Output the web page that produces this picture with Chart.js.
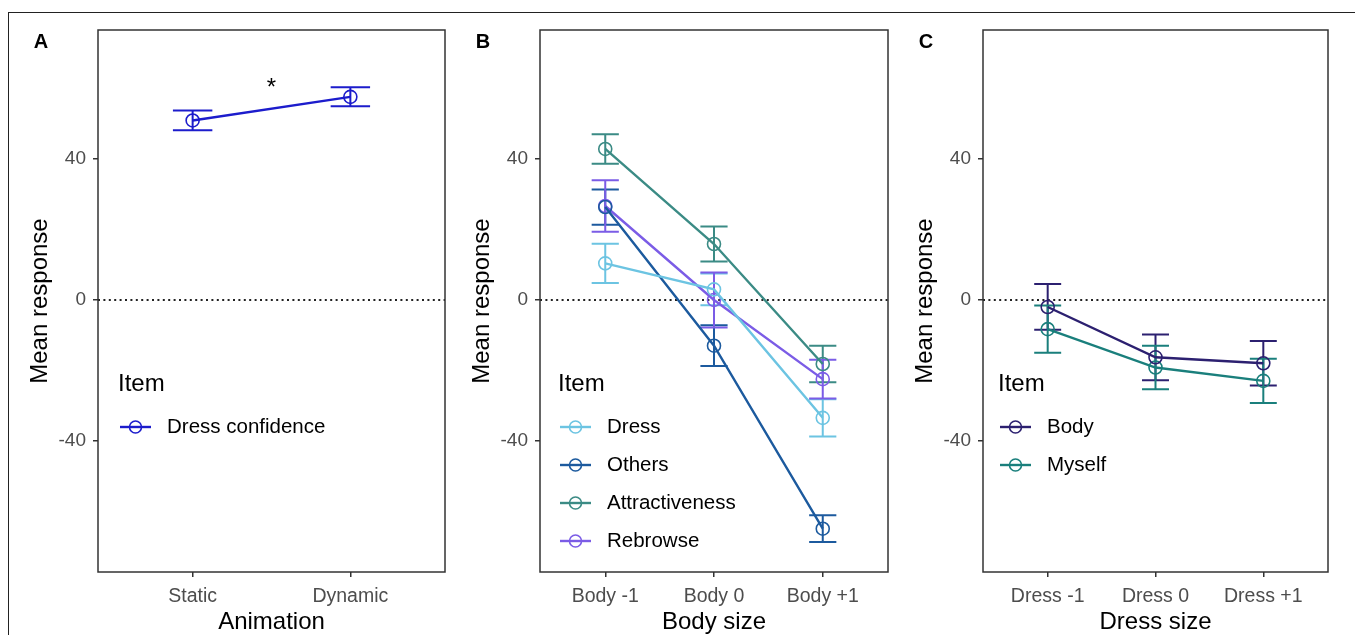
<!DOCTYPE html>
<html>
<head>
<meta charset="utf-8">
<script src="https://cdn.jsdelivr.net/npm/chart.js@4.4.1/dist/chart.umd.min.js"></script>
<style>
  html, body { margin: 0; padding: 0; background: #fff; overflow: hidden; }
  body { width: 1355px; height: 635px; position: relative; }
  canvas { position: absolute; top: 0; }
  #frame { position: absolute; left: 8px; top: 12px; width: 1400px; height: 700px; border: 1px solid #222; }
</style>
</head>
<body>
<div id="frame"></div>
<canvas id="chartA" width="433" height="641" style="left:22px"></canvas>
<canvas id="chartB" width="434" height="641" style="left:464px"></canvas>
<canvas id="chartC" width="431" height="641" style="left:907px"></canvas>
<script>
// Panel A: animation
const animCats = ['Static', 'Dynamic'];
const dressConfMean = [51, 57.7];
const dressConfErr = [2.8, 2.7];

// Panel B: body size
const bodyCats = ['Body -1', 'Body 0', 'Body +1'];
const dressMean = [10.4, 3, -33.5];
const dressErr = [5.6, 4.5, 5.3];
const othersMean = [26.4, -13, -65];
const othersErr = [5, 5.8, 3.8];
const attractMean = [42.9, 15.9, -18.2];
const attractErr = [4.2, 5, 5.2];
const rebrowseMean = [26.7, 0, -22.5];
const rebrowseErr = [7.3, 7.8, 5.5];

// Panel C: dress size
const dressSizeCats = ['Dress -1', 'Dress 0', 'Dress +1'];
const bodyItemMean = [-2, -16.3, -18];
const bodyItemErr = [6.5, 6.5, 6.3];
const myselfMean = [-8.3, -19.2, -23];
const myselfErr = [6.7, 6.2, 6.3];

const yTicks = [-40, 0, 40];
const yMin = -77.3, yMax = 76.7;

const FONT = "'Liberation Sans', Arial, sans-serif";

function makeDecor(panel) {
    return {
        id: 'decor' + panel.letter,
        beforeDatasetsDraw(chart) {
            const {ctx, chartArea: a, scales: {x, y}} = chart;
            ctx.save();
            // dotted zero line
            const y0 = y.getPixelForValue(0);
            ctx.setLineDash([2, 3.4]);
            ctx.lineWidth = 2;
            ctx.strokeStyle = '#222';
            ctx.beginPath();
            ctx.moveTo(a.left, y0);
            ctx.lineTo(a.right, y0);
            ctx.stroke();
            ctx.setLineDash([]);

            // error bars
            panel.series.forEach(s => {
                ctx.strokeStyle = s.color;
                ctx.lineWidth = 2;
                s.mean.forEach((m, i) => {
                    const xc = x.getPixelForValue(i + 1);
                    const xl = x.getPixelForValue(i + 1 - 0.125);
                    const xr = x.getPixelForValue(i + 1 + 0.125);
                    const yt = y.getPixelForValue(m + s.err[i]);
                    const yb = y.getPixelForValue(m - s.err[i]);
                    ctx.beginPath();
                    ctx.moveTo(xl, yt); ctx.lineTo(xr, yt);
                    ctx.moveTo(xc, yt); ctx.lineTo(xc, yb);
                    ctx.moveTo(xl, yb); ctx.lineTo(xr, yb);
                    ctx.stroke();
                });
            });
            ctx.restore();
        },
        afterDraw(chart) {
            const {ctx, chartArea: a, scales: {x, y}} = chart;
            ctx.save();
            // panel border
            ctx.strokeStyle = '#333';
            ctx.lineWidth = 1.5;
            ctx.strokeRect(a.left, a.top, a.right - a.left, a.bottom - a.top);

            // panel letter
            ctx.fillStyle = '#000';
            ctx.font = 'bold 20px ' + FONT;
            ctx.textAlign = 'center';
            ctx.textBaseline = 'middle';
            ctx.fillText(panel.letter, a.left - 57, 42);

            // significance stars
            (panel.stars || []).forEach(st => {
                ctx.font = '24px ' + FONT;
                ctx.textBaseline = 'alphabetic';
                ctx.fillText(st.text, x.getPixelForValue(st.x), y.getPixelForValue(st.y) + 12);
            });

            // legend
            const lx = a.left + panel.legendDx;
            ctx.textAlign = 'left';
            ctx.textBaseline = 'middle';
            ctx.font = '24px ' + FONT;
            ctx.fillText('Item', lx - 2, a.top + 354);
            ctx.font = '20.5px ' + FONT;
            panel.series.forEach((s, k) => {
                const ly = a.top + 397 + 38 * k;
                ctx.strokeStyle = s.color;
                ctx.lineWidth = 2.4;
                ctx.beginPath();
                ctx.moveTo(lx, ly);
                ctx.lineTo(lx + 31, ly);
                ctx.stroke();
                ctx.lineWidth = 1.6;
                ctx.beginPath();
                ctx.arc(lx + 15.5, ly, 6, 0, Math.PI * 2);
                ctx.stroke();
                ctx.fillStyle = '#000';
                ctx.fillText(s.label, lx + 47, ly);
            });
            ctx.restore();
        }
    };
}

function makePanel(canvasId, panel) {
    const ctx = document.getElementById(canvasId).getContext('2d');
    const datasets = panel.series.map(s => ({
        label: s.label,
        data: s.mean.map((v, i) => ({x: i + 1, y: v})),
        borderColor: s.color,
        borderWidth: 2.4,
        pointRadius: 6.5,
        pointBorderWidth: 1.6,
        pointBorderColor: s.color,
        pointBackgroundColor: 'rgba(0,0,0,0)',
        tension: 0
    }));

    new Chart(ctx, {
        type: 'line',
        data: { datasets: datasets },
        options: {
            responsive: false,
            animation: false,
            events: [],
            layout: { padding: { top: 30, right: 10, left: 0, bottom: 0 } },
            plugins: {
                legend: { display: false },
                tooltip: { enabled: false }
            },
            scales: {
                x: {
                    type: 'linear',
                    min: 0.4,
                    max: panel.cats.length + 0.6,
                    afterBuildTicks: scale => {
                        scale.ticks = panel.cats.map((c, i) => ({value: i + 1}));
                    },
                    afterFit: scale => { scale.height = 69; },
                    border: { display: false },
                    grid: { drawOnChartArea: false, drawTicks: true, tickLength: 5, color: '#333', lineWidth: 1.5 },
                    ticks: {
                        padding: 8,
                        color: '#4d4d4d',
                        font: { family: FONT, size: 19.5 },
                        maxRotation: 0,
                        autoSkip: false,
                        callback: v => panel.cats[v - 1]
                    },
                    title: {
                        display: true,
                        text: panel.xTitle,
                        color: '#000',
                        font: { family: FONT, size: 24 }
                    }
                },
                y: {
                    min: yMin,
                    max: yMax,
                    afterBuildTicks: scale => {
                        scale.ticks = yTicks.map(v => ({value: v}));
                    },
                    afterFit: scale => { scale.width = 76; },
                    border: { display: false },
                    grid: { drawOnChartArea: false, drawTicks: true, tickLength: 5, color: '#333', lineWidth: 1.5 },
                    ticks: {
                        padding: 7,
                        color: '#4d4d4d',
                        font: { family: FONT, size: 19 }
                    },
                    title: {
                        display: true,
                        text: 'Mean response',
                        color: '#000',
                        font: { family: FONT, size: 24 }
                    }
                }
            }
        },
        plugins: [makeDecor(panel)]
    });
}

makePanel('chartA', {
    letter: 'A',
    cats: animCats,
    xTitle: 'Animation',
    legendDx: 22,
    stars: [{x: 1.5, y: 61.5, text: '*'}],
    series: [
        {label: 'Dress confidence', color: '#1c1ccc', mean: dressConfMean, err: dressConfErr}
    ]
});

makePanel('chartB', {
    letter: 'B',
    cats: bodyCats,
    xTitle: 'Body size',
    legendDx: 20,
    series: [
        {label: 'Dress', color: '#6cc4e2', mean: dressMean, err: dressErr},
        {label: 'Others', color: '#1c5a9e', mean: othersMean, err: othersErr},
        {label: 'Attractiveness', color: '#3b8b85', mean: attractMean, err: attractErr},
        {label: 'Rebrowse', color: '#7b5ce6', mean: rebrowseMean, err: rebrowseErr}
    ]
});

makePanel('chartC', {
    letter: 'C',
    cats: dressSizeCats,
    xTitle: 'Dress size',
    legendDx: 17,
    series: [
        {label: 'Body', color: '#2c2070', mean: bodyItemMean, err: bodyItemErr},
        {label: 'Myself', color: '#1a7f7c', mean: myselfMean, err: myselfErr}
    ]
});
</script>
</body>
</html>
